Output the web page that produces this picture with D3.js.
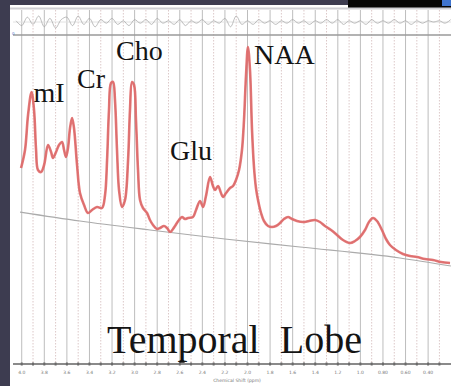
<!DOCTYPE html>
<html>
<head>
<meta charset="utf-8">
<script src="https://cdn.jsdelivr.net/npm/d3@7"></script>
<style>
  html, body { margin: 0; padding: 0; background: #3d3c50; }
  svg { display: block; }
</style>
</head>
<body>
<svg id="chart" width="451" height="386"></svg>
<script>
// Chemical shift (ppm) and fitted spectrum intensity
const ppm = [4.006,3.971,3.944,3.913,3.891,3.873,3.856,3.829,3.802,3.767,3.740,3.723,3.696,3.670,3.643,3.625,3.608,3.590,3.572,3.554,3.537,3.510,3.484,3.448,3.413,3.377,3.333,3.289,3.262,3.244,3.227,3.209,3.191,3.174,3.156,3.138,3.112,3.085,3.058,3.041,3.023,3.005,2.988,2.970,2.952,2.926,2.890,2.864,2.837,2.802,2.775,2.740,2.713,2.686,2.660,2.642,2.607,2.580,2.554,2.527,2.483,2.456,2.421,2.394,2.368,2.332,2.306,2.288,2.261,2.235,2.217,2.190,2.155,2.128,2.102,2.075,2.049,2.031,2.013,1.996,1.978,1.960,1.942,1.925,1.907,1.880,1.854,1.818,1.783,1.748,1.712,1.677,1.641,1.606,1.562,1.508,1.455,1.402,1.358,1.314,1.260,1.207,1.154,1.092,1.048,1.004,0.959,0.924,0.888,0.853,0.809,0.773,0.738,0.685,0.623,0.561,0.499,0.428,0.357,0.286,0.206];
const intensity = [196,214,249,272,254,214,194,192,199,219,212,206,212,219,222,214,207,216,236,246,236,199,171,159,151,154,157,156,169,204,254,281,282,264,214,174,157,164,204,254,282,279,244,194,164,156,151,144,139,135,136,138,136,132,135,138,144,147,145,146,147,154,163,157,168,187,178,174,178,171,167,171,176,178,184,194,214,244,289,317,294,234,196,176,164,151,143,138,137,138,141,145,147,145,143,142,143,144,142,138,134,129,124,121,123,127,134,142,146,143,134,125,119,114,110,108,107,105,104,102,101];

// Estimated baseline under the spectrum
const baselinePpm = [4.015,3.484,2.864,2.200,1.535,0.650,0.198];
const baselineValue = [152,143,134,125,117,106,98];

// Fit residual, one value every 0.05 ppm starting at 4.05 ppm
const residual = [1,-3,4,-2,5,-4,3,-5,2,4,-3,5,-2,3,-4,2,-1,3,-2,1,-3,2,-1,2,-2,3,-1,1,-2,2,-3,1,-1,2,-2,1,-1,3,-4,5,-2,1,-2,2,-1,1,-2,1,-1,2,-1,1,-2,1,-1,2,-1,2,-2,1,-1,1,-2,2,-1,1,-1,2,-1,1,-2,1,-1,1,0,1,-1,2];

// Axis ticks
const tickValues = [4.0,3.8,3.6,3.4,3.2,3.0,2.8,2.6,2.4,2.2,2.0,1.8,1.6,1.4,1.2,1.0,0.8,0.6,0.4];
const tickLabels = ["4.0","3.8","3.6","3.4","3.2","3.0","2.8","2.6","2.4","2.2","2.0","1.8","1.6","1.4","1.2","1.0","0.80","0.60","0.40"];

// Metabolite annotations
const peakNames = ["mI","Cr","Cho","Glu","NAA"];
const peakPpm = [3.913,3.209,3.023,2.332,1.996];

const svg = d3.select("#chart");
const W = 451, H = 386;

const x = d3.scaleLinear().domain([4.08, 0.2]).range([12.7, 450.7]);
const y = d3.scaleLinear().domain([0, 330]).range([364, 34]);
const yRes = d3.scaleLinear().domain([-10, 10]).range([34, 10]);

// frame: white panel inside dark border
svg.append("rect").attr("x", 10).attr("y", 5).attr("width", W - 10).attr("height", H - 5).attr("fill", "#ffffff");
svg.append("rect").attr("x", 348).attr("y", 0).attr("width", W - 348).attr("height", 8).attr("fill", "#050505");
svg.append("rect").attr("x", 442).attr("y", 0).attr("width", 9).attr("height", 6).attr("fill", "#3f74cf");
svg.append("line").attr("x1", 10).attr("x2", W).attr("y1", 8.5).attr("y2", 8.5)
  .attr("stroke", "#cfcfd4").attr("stroke-width", 2);

// vertical grid every 0.1 ppm
const gridVals = d3.range(40, 2, -1).map(d => d / 10);
svg.append("g").selectAll("line").data(gridVals).join("line")
  .attr("x1", d => x(d)).attr("x2", d => x(d))
  .attr("y1", 10).attr("y2", 364)
  .attr("stroke", (d, i) => i % 2 === 0 ? "#bdbdbd" : "#dcc8c8")
  .attr("stroke-width", 1)
  .attr("stroke-dasharray", (d, i) => i % 2 === 0 ? null : "1.5,1.5");

// residual panel
const resPpm = residual.map((d, i) => 4.05 - i * 0.05);
svg.append("line").attr("x1", 13).attr("x2", W).attr("y1", yRes(0)).attr("y2", yRes(0))
  .attr("stroke", "#e2e2e2").attr("stroke-width", 1);
svg.append("path")
  .datum(residual)
  .attr("fill", "none").attr("stroke", "#a2a2a2").attr("stroke-width", 0.7)
  .attr("d", d3.line().x((d, i) => x(resPpm[i])).y(d => yRes(d)).curve(d3.curveCatmullRom));
svg.append("line").attr("x1", 13).attr("x2", W).attr("y1", 35).attr("y2", 35)
  .attr("stroke", "#9a9a9a").attr("stroke-width", 1.6);
svg.append("text").attr("x", 12).attr("y", 35).attr("font-size", 4)
  .attr("fill", "#5577cc").attr("font-family", "DejaVu Sans").text("0");

// baseline
svg.append("path")
  .datum(baselineValue)
  .attr("fill", "none").attr("stroke", "#ababab").attr("stroke-width", 1.2)
  .attr("d", d3.line().x((d, i) => x(baselinePpm[i])).y(d => y(d)).curve(d3.curveMonotoneX));

// spectrum: fit in red with the measured trace underneath
const specLine = d3.line().x((d, i) => x(ppm[i])).y(d => y(d)).curve(d3.curveCatmullRom.alpha(0.5));
svg.append("path").datum(intensity)
  .attr("fill", "none").attr("stroke", "#8c8c8c").attr("stroke-width", 1.2)
  .attr("d", specLine);
svg.append("path").datum(intensity)
  .attr("fill", "none").attr("stroke", "#e36a6a").attr("stroke-opacity", 0.9)
  .attr("stroke-width", 2.6).attr("stroke-linejoin", "round")
  .attr("d", specLine);

// x axis
const axis = svg.append("g");
axis.append("line").attr("x1", 13).attr("x2", W).attr("y1", 364).attr("y2", 364)
  .attr("stroke", "#8a8a8a").attr("stroke-width", 2);
axis.selectAll("rect.tk").data(gridVals).join("rect")
  .attr("class", "tk")
  .attr("x", d => x(d) - 1).attr("y", 362.5)
  .attr("width", 2).attr("height", 3)
  .attr("fill", "#6a6a6a");
axis.selectAll("text").data(tickValues).join("text")
  .attr("x", d => x(d)).attr("y", 374)
  .attr("text-anchor", "middle")
  .attr("font-family", "DejaVu Sans").attr("font-size", 4.5)
  .attr("fill", "#777")
  .text((d, i) => tickLabels[i]);
svg.append("path")
  .attr("d", d3.symbol(d3.symbolTriangle, 14)())
  .attr("transform", `translate(${x(2.58)},361)`)
  .attr("fill", "#111");
svg.append("text").attr("x", 237).attr("y", 382)
  .attr("text-anchor", "middle").attr("font-family", "DejaVu Sans")
  .attr("font-size", 4.5).attr("fill", "#777")
  .text("Chemical Shift (ppm)");

// metabolite labels
const labelOffset = { mI: [2, 102], Cr: [-34, 88], Cho: [-16, 60], Glu: [-40, 160], NAA: [6, 64] };
svg.append("g").selectAll("text").data(peakNames).join("text")
  .attr("x", (d, i) => x(peakPpm[i]) + labelOffset[d][0])
  .attr("y", d => labelOffset[d][1])
  .attr("font-family", "Liberation Serif").attr("font-size", 28)
  .attr("fill", "#141414")
  .text(d => d);

svg.append("text").attr("x", 107).attr("y", 353)
  .attr("font-family", "Liberation Serif").attr("font-size", 40)
  .attr("fill", "#141414")
  .style("white-space", "pre")
  .text("Temporal  Lobe");
</script>
</body>
</html>
